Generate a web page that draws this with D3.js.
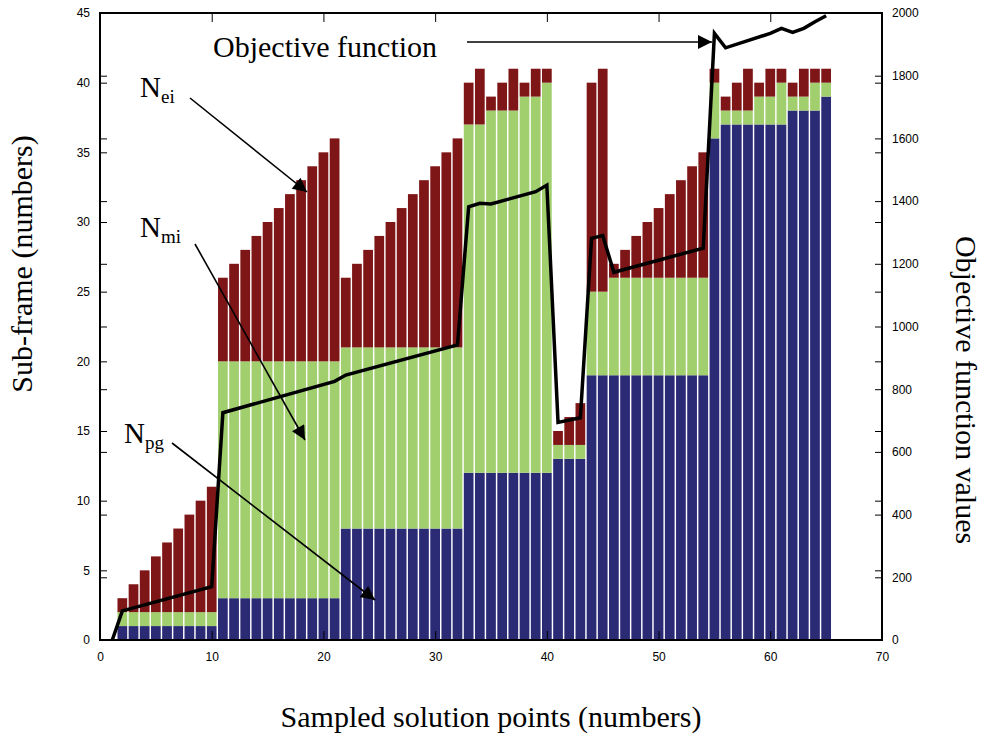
<!DOCTYPE html>
<html>
<head>
<meta charset="utf-8">
<script src="https://cdn.jsdelivr.net/npm/d3@7"></script>
<style>
  body { margin: 0; background: #fff; }
  .tick-label { font-family: "Liberation Sans Narrow", "Liberation Sans", Arial, sans-serif; font-size: 12px; fill: #000; }
  .title { font-family: "Liberation Serif", "Times New Roman", serif; font-size: 30px; fill: #000; }
</style>
</head>
<body>
<div id="box-div"></div>
<script>
// - data
const points = [2, 3, 4, 5, 6, 7, 8, 9, 10,
  11, 12, 13, 14, 15, 16, 17, 18, 19, 20, 21,
  22, 23, 24, 25, 26, 27, 28, 29, 30, 31, 32,
  33, 34, 35, 36, 37, 38, 39, 40,
  41, 42, 43, 44, 45,
  46, 47, 48, 49, 50, 51, 52, 53, 54,
  55, 56, 57, 58, 59, 60, 61, 62, 63, 64, 65]

// top of each colour band (cumulative)
const pgTop = [1, 1, 1, 1, 1, 1, 1, 1, 1,
  3, 3, 3, 3, 3, 3, 3, 3, 3, 3, 3,
  8, 8, 8, 8, 8, 8, 8, 8, 8, 8, 8,
  12, 12, 12, 12, 12, 12, 12, 12,
  13, 13, 13, 19, 19,
  19, 19, 19, 19, 19, 19, 19, 19, 19,
  36, 37, 37, 37, 37, 37, 37, 38, 38, 38, 39]

const miTop = [2, 2, 2, 2, 2, 2, 2, 2, 2,
  20, 20, 20, 20, 20, 20, 20, 20, 20, 20, 20,
  21, 21, 21, 21, 21, 21, 21, 21, 21, 21, 21,
  37, 37, 38, 38, 38, 39, 39, 40,
  14, 14, 14, 25, 25,
  26, 26, 26, 26, 26, 26, 26, 26, 26,
  40, 38, 38, 38, 39, 39, 40, 39, 39, 40, 40]

const eiTop = [3, 4, 5, 6, 7, 8, 9, 10, 11,
  26, 27, 28, 29, 30, 31, 32, 33, 34, 35, 36,
  26, 27, 28, 29, 30, 31, 32, 33, 34, 35, 36,
  40, 41, 39, 40, 41, 40, 41, 41,
  15, 16, 17, 40, 41,
  27, 28, 29, 30, 31, 32, 33, 34, 35,
  41, 39, 40, 41, 40, 41, 41, 40, 41, 41, 41]

// objective function (right axis)
const objX = [1.1, 2, 10, 11, 21, 22, 32, 33, 34, 35, 39, 40, 41, 43, 44, 45, 46, 54, 55, 56, 60, 61, 62, 63, 64, 65]
const objY = [0, 93, 170, 725, 825, 845, 941, 1382, 1393, 1391, 1430, 1451, 694, 709, 1281, 1290, 1173, 1250, 1935, 1889, 1935, 1951, 1938, 1951, 1972, 1991]

const xTicks = [0, 10, 20, 30, 40, 50, 60, 70]
const leftTicks = [0, 5, 10, 15, 20, 25, 30, 35, 40, 45]
const rightTicks = [0, 200, 400, 600, 800, 1000, 1200, 1400, 1600, 1800, 2000]

const colors = { pg: '#2b2a75', mi: '#a1cf6e', ei: '#7e1517' }

// - layout
const dms = { width: 987, height: 736, left: 100, right: 882, top: 13, bottom: 640 }

const svg = d3.select('#box-div')
  .append('svg')
  .attr('width', dms.width)
  .attr('height', dms.height)

const xScale = d3.scaleLinear().domain([0, 70]).range([dms.left, dms.right])
const yLeft = d3.scaleLinear().domain([0, 45]).range([dms.bottom, dms.top])
const yRight = d3.scaleLinear().domain([0, 2000]).range([dms.bottom, dms.top])

// - stacked bars
const rows = points.map((p, i) => ({ x: p, pg: pgTop[i], mi: miTop[i] - pgTop[i], ei: eiTop[i] - miTop[i] }))
const stack = d3.stack().keys(['pg', 'mi', 'ei'])
const series = stack(rows)
const barW = xScale(0.87) - xScale(0)

svg.append('g')
  .selectAll('g')
  .data(series)
  .join('g')
  .attr('fill', s => colors[s.key])
  .selectAll('rect')
  .data(s => s)
  .join('rect')
  .attr('x', d => xScale(d.data.x) - barW / 2)
  .attr('width', barW)
  .attr('y', d => yLeft(d[1]))
  .attr('height', d => yLeft(d[0]) - yLeft(d[1]))

// - objective line
const line = d3.line()
  .x((d, i) => xScale(objX[i]))
  .y(d => yRight(d))

svg.append('path')
  .attr('d', line(objY))
  .attr('fill', 'none')
  .attr('stroke', '#000')
  .attr('stroke-width', 3.5)
  .attr('stroke-linejoin', 'miter')

// - axes (ticks inward, mirrored like plotyy)
const axes = svg.append('g')

const bottomAxis = d3.axisBottom(xScale).tickValues(xTicks).tickSize(-9).tickPadding(12)
axes.append('g').attr('transform', `translate(0,${dms.bottom})`).call(bottomAxis)
const topAxis = d3.axisTop(xScale).tickValues(xTicks).tickSize(-9).tickFormat('')
axes.append('g').attr('transform', `translate(0,${dms.top})`).call(topAxis)

const leftAxis = d3.axisLeft(yLeft).tickValues(leftTicks).tickSize(-7).tickPadding(10)
axes.append('g').attr('transform', `translate(${dms.left},0)`).call(leftAxis)
const leftMirror = d3.axisLeft(yRight).tickValues(rightTicks).tickSize(-7).tickFormat('')
axes.append('g').attr('transform', `translate(${dms.left},0)`).call(leftMirror)

const rightAxis = d3.axisRight(yRight).tickValues(rightTicks).tickSize(-7).tickPadding(10).tickFormat(d3.format('d'))
axes.append('g').attr('transform', `translate(${dms.right},0)`).call(rightAxis)
const rightMirror = d3.axisRight(yLeft).tickValues(leftTicks).tickSize(-7).tickFormat('')
axes.append('g').attr('transform', `translate(${dms.right},0)`).call(rightMirror)

axes.selectAll('.domain').remove()
axes.selectAll('line').attr('stroke', '#000').attr('stroke-width', 1)
axes.selectAll('text').attr('class', 'tick-label').attr('font-size', null).attr('font-family', null)

// frame
svg.append('rect')
  .attr('x', dms.left).attr('y', dms.top)
  .attr('width', dms.right - dms.left).attr('height', dms.bottom - dms.top)
  .attr('fill', 'none').attr('stroke', '#000').attr('stroke-width', 2)

// - titles
svg.append('text').attr('class', 'title')
  .attr('transform', 'translate(32,264) rotate(-90)')
  .attr('text-anchor', 'middle')
  .text('Sub-frame (numbers)')

svg.append('text').attr('class', 'title')
  .attr('transform', 'translate(956,390) rotate(90)')
  .attr('text-anchor', 'middle')
  .text('Objective function values')

svg.append('text').attr('class', 'title')
  .attr('x', 491).attr('y', 727)
  .attr('text-anchor', 'middle')
  .text('Sampled solution points (numbers)')

// - annotations
const defs = svg.append('defs')
defs.append('marker')
  .attr('id', 'arrow')
  .attr('viewBox', '0 0 10 10')
  .attr('refX', 10).attr('refY', 5)
  .attr('markerWidth', 18).attr('markerHeight', 14)
  .attr('markerUnits', 'userSpaceOnUse')
  .attr('orient', 'auto')
  .append('path')
  .attr('d', 'M0,0 L10,5 L0,10 z')
  .attr('fill', '#000')

svg.append('text').attr('class', 'title')
  .attr('x', 213).attr('y', 57)
  .text('Objective function')

function label(x, y, sub) {
  const t = svg.append('text').attr('class', 'title').attr('x', x).attr('y', y).style('font-size', '29px')
  t.append('tspan').text('N')
  t.append('tspan').attr('dy', 6).style('font-size', '19px').text(sub)
}
label(140, 97, 'ei')
label(140, 237, 'mi')
label(124, 443, 'pg')

const arrows = [
  [467, 42, 712, 42],
  [190, 98, 307, 192],
  [195, 244, 305, 440],
  [172, 443, 375, 600],
]
svg.append('g')
  .selectAll('line')
  .data(arrows)
  .join('line')
  .attr('x1', d => d[0]).attr('y1', d => d[1])
  .attr('x2', d => d[2]).attr('y2', d => d[3])
  .attr('stroke', '#000')
  .attr('stroke-width', 1.6)
  .attr('marker-end', 'url(#arrow)')
</script>
</body>
</html>
